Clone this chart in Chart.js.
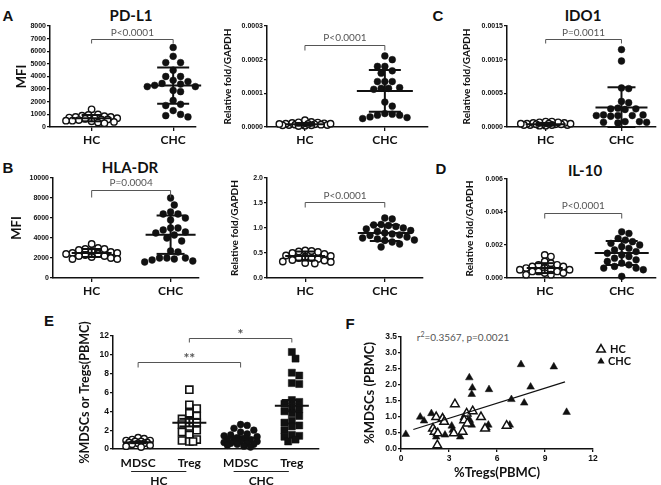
<!DOCTYPE html>
<html>
<head>
<meta charset="utf-8">
<title>MDSC figure</title>
<script src="https://cdn.jsdelivr.net/npm/chart.js@4.4.1/dist/chart.umd.min.js"></script>
<style>
html,body{margin:0;padding:0;background:#fff;}
body{position:relative;width:661px;height:485px;overflow:hidden;font-family:Lato,"Open Sans",sans-serif;}
canvas{position:absolute;}
.lbl{position:absolute;white-space:nowrap;transform:translate(-50%,-50%);line-height:1;color:#111;}
.letter{font:bold 15px "Liberation Sans",Arial,sans-serif;}
.ttl{font:bold 15px Lato,sans-serif;}
.stat{font:10px Lato,sans-serif;color:#555;}
.stat sup{font-size:7px;vertical-align:4px;line-height:0;}
</style>
</head>
<body>
<div class="lbl letter" style="left:8px;top:15px">A</div>
<div class="lbl ttl" style="left:131px;top:15px">PD-L1</div>
<div class="lbl letter" style="left:438px;top:15px">C</div>
<div class="lbl ttl" style="left:583px;top:15px">IDO1</div>
<div class="lbl letter" style="left:8px;top:167px">B</div>
<div class="lbl ttl" style="left:130px;top:167px">HLA-DR</div>
<div class="lbl letter" style="left:441px;top:168px">D</div>
<div class="lbl ttl" style="left:585px;top:170px">IL-10</div>
<div class="lbl letter" style="left:49px;top:320px">E</div>
<div class="lbl letter" style="left:350px;top:323px">F</div>
<div class="lbl stat" style="left:463px;top:337px">r<sup>2</sup>=0.3567, p=0.0021</div>
<script>
Chart.defaults.font.family = 'Lato, sans-serif';
Chart.defaults.color = '#111';

// ================= DATA =================
const groups = ['HC', 'CHC'];

// A – PD-L1 (MFI)
const pdl1MfiTicks = [0, 1000, 2000, 3000, 4000, 5000, 6000, 7000, 8000];
const pdl1MfiHC  = [1400, 1000, 950, 900, 850, 800, 800, 750, 700, 700, 650, 600, 600, 550, 500, 500, 450, 400, 350, 300];
const pdl1MfiCHC = [6300, 5600, 5100, 5100, 4500, 4000, 4000, 3700, 3600, 3450, 3400, 3300, 3200, 3200, 2900, 2800, 2100, 1800, 1700, 1300, 1000, 900, 800];
const pdl1MfiMean = [700, 3280];
const pdl1MfiSD   = [250, 1430];

// A – PD-L1 (mRNA)
const pdl1RnaTicks = [0, 0.0001, 0.0002, 0.0003];
const pdl1RnaHC  = [4e-6, 6e-6, 8e-6, 10e-6, 12e-6, 15e-6, 20e-6, 5e-6, 7e-6, 9e-6, 11e-6, 13e-6, 3e-6, 6e-6, 8e-6, 10e-6, 14e-6, 5e-6, 7e-6, 9e-6];
const pdl1RnaCHC = [211e-6, 200e-6, 180e-6, 180e-6, 167e-6, 160e-6, 135e-6, 135e-6, 135e-6, 117e-6, 115e-6, 115e-6, 112e-6, 74e-6, 62e-6, 40e-6, 38e-6, 35e-6, 35e-6, 30e-6, 28e-6, 25e-6];
const pdl1RnaMean = [8e-6, 107e-6];
const pdl1RnaSD   = [4e-6, 62e-6];

// C – IDO1
const ido1Ticks = [0, 0.0005, 0.0010, 0.0015];
const ido1HC  = [2e-5, 3e-5, 4e-5, 5e-5, 6e-5, 7e-5, 8e-5, 3e-5, 4e-5, 5e-5, 6e-5, 2e-5, 3e-5, 4e-5, 5e-5, 7e-5, 8e-5, 3e-5, 4e-5, 5e-5];
const ido1CHC = [0.00115, 0.00098, 0.00058, 0.00057, 0.00038, 0.00036, 0.00028, 0.00027, 0.00027, 0.00026, 0.00018, 0.00017, 0.00017, 0.00016, 0.00017, 0.00018, 0.00008, 0.00007, 0.00006, 0.00007, 0.00008];
const ido1Mean = [0.00004, 0.00029];
const ido1SD   = [0.00002, 0.0003];

// B – HLA-DR (MFI)
const hladrMfiTicks = [0, 2000, 4000, 6000, 8000, 10000];
const hladrMfiHC  = [3400, 3000, 2900, 2900, 2800, 2700, 2600, 2500, 2500, 2400, 2400, 2300, 2200, 2200, 2100, 2000, 1900, 1900];
const hladrMfiCHC = [8000, 7300, 6600, 6400, 6400, 6000, 5800, 5000, 5000, 4800, 4600, 4500, 4300, 4000, 3700, 2700, 2600, 2000, 2000, 2000, 1900, 1800, 1700, 1600];
const hladrMfiMean = [2500, 4330];
const hladrMfiSD   = [400, 1920];

// B – HLA-DR (mRNA)
const hladrRnaTicks = [0, 0.5, 1.0, 1.5, 2.0];
const hladrRnaHC  = [0.55, 0.54, 0.53, 0.52, 0.50, 0.48, 0.45, 0.44, 0.42, 0.40, 0.40, 0.38, 0.36, 0.35, 0.33, 0.32, 0.30, 0.29];
const hladrRnaCHC = [1.20, 1.18, 1.07, 1.06, 1.05, 1.03, 1.00, 0.98, 0.95, 0.93, 0.90, 0.88, 0.86, 0.85, 0.82, 0.80, 0.78, 0.76, 0.75, 0.72, 0.68, 0.62];
const hladrRnaMean = [0.44, 0.90];
const hladrRnaSD   = [0.09, 0.16];

// D – IL-10
const il10Ticks = [0, 0.002, 0.004, 0.006];
const il10HC  = [0.0014, 0.0013, 0.0010, 0.0009, 0.0008, 0.0008, 0.0007, 0.0007, 0.0006, 0.0006, 0.0005, 0.0005, 0.0005, 0.0004, 0.0004, 0.0004, 0.0003, 0.0003, 0.0002, 0.0002];
const il10CHC = [0.0028, 0.0027, 0.0024, 0.0023, 0.0022, 0.0021, 0.0020, 0.0019, 0.0018, 0.0017, 0.0016, 0.0015, 0.0014, 0.0013, 0.0012, 0.0011, 0.0010, 0.0009, 0.0008, 0.0007, 0.0006, 0.0006, 0.0005, 0.0001];
const il10Mean = [0.0006, 0.00152];
const il10SD   = [0.0003, 0.00073];

// E – %MDSCs / %Tregs
const cellCats   = ['MDSC', 'Treg', 'MDSC', 'Treg'];
const cellGroups = ['HC', 'CHC'];
const cellTicks  = [0, 2, 4, 6, 8, 10, 12];
const mdscHC  = [1.2, 1.1, 1.0, 0.9, 0.9, 0.8, 0.8, 0.7, 0.7, 0.6, 0.6, 0.5, 0.4, 0.3, 0.2];
const tregHC  = [6.3, 4.7, 4.3, 3.8, 3.5, 3.2, 3.0, 2.8, 2.6, 2.4, 2.0, 1.8, 1.5, 1.0, 0.9, 0.8, 0.8];
const mdscCHC = [2.6, 2.5, 2.2, 2.0, 1.8, 1.6, 1.5, 1.4, 1.3, 1.2, 1.1, 1.0, 1.0, 0.9, 0.8, 0.8, 0.7, 0.6, 0.6, 0.5, 0.5, 0.4, 0.3, 0.2];
const tregCHC = [10.3, 9.6, 8.1, 7.8, 7.0, 6.9, 5.2, 5.0, 4.8, 4.5, 4.2, 4.0, 3.8, 3.5, 3.0, 2.8, 2.5, 2.4, 2.0, 1.5, 1.4, 1.3, 1.0, 0.8];
const cellMean = [0.7, 2.8, 1.2, 4.6];
const cellSEM  = [0.08, 0.4, 0.15, 0.6];

// F – correlation
const fXTicks = [0, 3, 6, 9, 12];
const fYTicks = [0, 0.5, 1.0, 1.5, 2.0, 2.5, 3.0, 3.5];
const fTregsHC  = [2.2, 2.0, 2.1, 2.3, 2.27, 2.6, 2.7, 3.3, 3.37, 3.85, 4.0, 4.1, 3.95, 4.15, 4.48, 5.0, 5.25, 6.6];
const fMdscsHC  = [1.0, 0.64, 0.54, 0.49, 0.12, 0.95, 0.85, 0.49, 1.40, 0.54, 1.0, 1.11, 0.9, 0.8, 1.18, 1.0, 0.64, 0.73];
const fTregsCHC = [0.3, 1.2, 1.44, 1.9, 2.2, 2.6, 2.75, 3.17, 3.23, 3.7, 4.3, 4.27, 4.42, 4.46, 4.42, 5.35, 5.46, 5.5, 6.8, 6.9, 7.5, 7.7, 8.1, 9.55, 10.35];
const fMdscsCHC = [0.46, 1.0, 0.88, 1.11, 0.38, 0.98, 0.44, 0.72, 0.59, 0.38, 0.9, 2.23, 1.71, 1.91, 0.75, 0.66, 0.75, 1.86, 0.75, 1.55, 2.64, 1.44, 1.94, 2.57, 1.15];
const fitSlope = 0.157;
const fitIntercept = 0.489;
const fitRange = [0.77, 10.25];

// ================= HELPERS =================
// deterministic beeswarm (GraphPad-like scatter dot layout), limited to a max half-width
function swarmOffsets(vals, pxPerY, pxPerX, dia, maxHW) {
  const order = vals.map((v, i) => i).sort((a, b) => vals[b] - vals[a]);
  const placed = [];
  const off = new Array(vals.length).fill(0);
  const step = dia * 0.5;
  const cands = [0];
  for (let k = 1; k * step <= maxHW + 0.01; k++) { cands.push(k * step, -k * step); }
  for (const i of order) {
    const py = vals[i] * pxPerY;
    let pos = null, bestPos = 0, bestD = -1;
    for (const c of cands) {
      const d = placed.length ? Math.min(...placed.map(p => Math.hypot(p.x - c, p.y - py))) : Infinity;
      if (d >= dia) { pos = c; break; }
      if (d > bestD) { bestD = d; bestPos = c; }
    }
    if (pos === null) pos = bestPos;
    placed.push({ x: pos, y: py });
    off[i] = pos / pxPerX;
  }
  return off;
}

function addCanvas(box) {
  const c = document.createElement('canvas');
  c.width = box.w; c.height = box.h;
  c.style.left = box.x + 'px'; c.style.top = box.y + 'px';
  c.style.width = box.w + 'px'; c.style.height = box.h + 'px';
  document.body.appendChild(c);
  return c;
}

const openCircle   = { style: 'circle', r: 3.2, fill: '#fff', bw: 1.4, dia: 6.4, hw: 26 };
const filledCircle = { style: 'circle', r: 3.4, fill: '#111', bw: 0.5, dia: 7.4, hw: 30 };
const openCircleE  = { style: 'circle', r: 3.2, fill: '#fff', bw: 1.4, dia: 6.0, hw: 14 };
const filledCircleE= { style: 'circle', r: 3.4, fill: '#111', bw: 0.5, dia: 6.6, hw: 17 };
const openSquare   = { style: 'rect', r: 5, fill: '#fff', bw: 1.6, dia: 7.4, hw: 11 };
const filledSquare = { style: 'rect', r: 5, fill: '#111', bw: 0.5, dia: 7.4, hw: 11 };

function dotPanel(spec) {
  const { box, area, cats, series, ticks, fmt, yTitle, yTitleFont, xMin, xMax,
          mean, err, meanHW, errHW, brackets, markers } = spec;
  const canvas = addCanvas(box);
  const yMin = ticks[0], yMax = ticks[ticks.length - 1];
  const pxY = (area.B - area.T) / (yMax - yMin);
  const pxX = (area.R - area.L) / (xMax - xMin);
  const datasets = series.map((vals, i) => {
    const m = markers[i];
    const off = swarmOffsets(vals, pxY, pxX, m.dia, m.hw);
    return {
      label: cats[i],
      data: vals.map((v, j) => ({ x: i + off[j], y: v })),
      pointStyle: m.style, pointRadius: m.r,
      pointBackgroundColor: m.fill, pointBorderColor: '#111', pointBorderWidth: m.bw,
      showLine: false, clip: false
    };
  });
  const overlay = {
    id: 'overlay',
    afterDatasetsDraw(chart) {
      const { ctx, scales: { x, y } } = chart;
      ctx.save();
      const seg = (a, b, c, d) => { ctx.beginPath(); ctx.moveTo(a, b); ctx.lineTo(c, d); ctx.stroke(); };
      ctx.strokeStyle = '#111'; ctx.lineWidth = 2;
      mean.forEach((m, i) => {
        const cx = x.getPixelForValue(i);
        const ym = y.getPixelForValue(m);
        const yu = y.getPixelForValue(m + err[i]);
        const yl = y.getPixelForValue(Math.max(m - err[i], yMin));
        seg(cx - meanHW[i], ym, cx + meanHW[i], ym);
        seg(cx - errHW[i], yu, cx + errHW[i], yu);
        seg(cx - errHW[i], yl, cx + errHW[i], yl);
        seg(cx, yu, cx, yl);
      });
      ctx.strokeStyle = '#555'; ctx.fillStyle = '#555'; ctx.lineWidth = 1;
      ctx.textAlign = 'center'; ctx.textBaseline = 'middle';
      brackets.forEach(b => {
        const x1 = x.getPixelForValue(b.from), x2 = x.getPixelForValue(b.to);
        const yb = Math.round(y.getPixelForValue(b.at)) + 0.5;
        ctx.beginPath();
        ctx.moveTo(x1, yb + b.tip); ctx.lineTo(x1, yb); ctx.lineTo(x2, yb); ctx.lineTo(x2, yb + b.tip);
        ctx.stroke();
        ctx.font = b.font || '10px Lato, sans-serif';
        ctx.fillText(b.text, (x1 + x2) / 2, yb - b.gap);
      });
      ctx.restore();
      if (spec.extra) spec.extra(chart);
    }
  };
  new Chart(canvas, {
    type: 'scatter',
    data: { datasets },
    options: {
      responsive: false, animation: false, events: [],
      layout: { padding: { left: 0, top: area.T - box.y, right: box.x + box.w - area.R, bottom: 0 } },
      plugins: { legend: { display: false }, tooltip: { enabled: false } },
      scales: {
        x: {
          type: 'linear', position: 'bottom', min: xMin, max: xMax,
          afterBuildTicks: s => { s.ticks = cats.map((c, i) => ({ value: i })); },
          afterFit: s => { s.height = box.y + box.h - area.B; },
          ticks: { callback: v => cats[v], font: spec.xFont, color: '#111', padding: spec.xPad, maxRotation: 0, autoSkip: false },
          grid: { display: spec.xTickLen > 0, drawOnChartArea: false, tickLength: spec.xTickLen, color: '#111', lineWidth: 1.3 },
          border: { display: true, color: '#111', width: 1.5 }
        },
        y: {
          type: 'linear', position: 'left', min: yMin, max: yMax,
          afterBuildTicks: s => { s.ticks = ticks.map(v => ({ value: v })); },
          afterFit: s => { s.width = area.L - box.x; },
          ticks: { callback: v => fmt(v), font: spec.yFont, color: '#111', padding: 1, autoSkip: false },
          grid: { drawOnChartArea: false, tickLength: 3, color: '#111', lineWidth: 1.3 },
          border: { display: true, color: '#111', width: 1.5 },
          title: { display: true, text: yTitle, font: yTitleFont, color: '#111', padding: 0 }
        }
      }
    },
    plugins: [overlay]
  });
}

const tickFontSmall = { family: '"Liberation Sans", Arial, sans-serif', size: 7, weight: 'bold', lineHeight: 1 };
const catFont = { family: 'Lato, sans-serif', size: 12, weight: 'bold', lineHeight: 1 };
const mfiTitle = { family: 'Lato, sans-serif', size: 13, weight: 'bold', lineHeight: 1.2 };
const relTitle = { family: 'Lato, sans-serif', size: 10, weight: 'bold', lineHeight: 1.2 };
const openFilled = [openCircle, filledCircle];
const f0 = v => String(v);

// A – PD-L1 MFI
dotPanel({
  box: { x: 14, y: 18, w: 191, h: 132 }, area: { L: 50, T: 26, R: 196, B: 127 },
  cats: groups, series: [pdl1MfiHC, pdl1MfiCHC], ticks: pdl1MfiTicks, fmt: f0,
  yTitle: 'MFI', yTitleFont: mfiTitle, xMin: -0.51, xMax: 1.28,
  mean: pdl1MfiMean, err: pdl1MfiSD, meanHW: [20, 28], errHW: [10, 16],
  brackets: [{ from: 0, to: 1, at: 6970, tip: 4, gap: 7, text: 'P<0.0001' }],
  markers: openFilled, xFont: catFont, xPad: 3, xTickLen: 4, yFont: tickFontSmall
});
// A – PD-L1 mRNA
dotPanel({
  box: { x: 222, y: 18, w: 213, h: 132 }, area: { L: 267, T: 26, R: 428, B: 127 },
  cats: groups, series: [pdl1RnaHC, pdl1RnaCHC], ticks: pdl1RnaTicks, fmt: v => v.toFixed(4),
  yTitle: 'Relative fold/GAPDH', yTitleFont: relTitle, xMin: -0.475, xMax: 1.54,
  mean: pdl1RnaMean, err: pdl1RnaSD, meanHW: [20, 28], errHW: [10, 16],
  brackets: [{ from: 0, to: 1, at: 0.000244, tip: 5, gap: 8, text: 'P<0.0001' }],
  markers: openFilled, xFont: catFont, xPad: 3, xTickLen: 4, yFont: tickFontSmall
});
// C – IDO1
dotPanel({
  box: { x: 461, y: 18, w: 200, h: 132 }, area: { L: 507, T: 26, R: 660, B: 127 },
  cats: groups, series: [ido1HC, ido1CHC], ticks: ido1Ticks, fmt: v => v.toFixed(4),
  yTitle: 'Relative fold/GAPDH', yTitleFont: relTitle, xMin: -0.51, xMax: 1.45,
  mean: ido1Mean, err: ido1SD, meanHW: [20, 26], errHW: [10, 14],
  brackets: [{ from: 0, to: 1, at: 0.00131, tip: 4, gap: 7, text: 'P=0.0011' }],
  markers: openFilled, xFont: catFont, xPad: 3, xTickLen: 4, yFont: tickFontSmall
});
// B – HLA-DR MFI
dotPanel({
  box: { x: 9, y: 170, w: 196, h: 132 }, area: { L: 53, T: 178, R: 199, B: 278 },
  cats: groups, series: [hladrMfiHC, hladrMfiCHC], ticks: hladrMfiTicks, fmt: f0,
  yTitle: 'MFI', yTitleFont: mfiTitle, xMin: -0.49, xMax: 1.36,
  mean: hladrMfiMean, err: hladrMfiSD, meanHW: [20, 25], errHW: [10, 14],
  brackets: [{ from: 0, to: 1, at: 8800, tip: 7, gap: 8, text: 'P=0.0004' }],
  markers: openFilled, xFont: catFont, xPad: 3, xTickLen: 4, yFont: tickFontSmall
});
// B – HLA-DR mRNA
dotPanel({
  box: { x: 229, y: 170, w: 206, h: 132 }, area: { L: 267, T: 178, R: 423, B: 278 },
  cats: groups, series: [hladrRnaHC, hladrRnaCHC], ticks: hladrRnaTicks, fmt: v => v.toFixed(1),
  yTitle: 'Relative fold/GAPDH', yTitleFont: relTitle, xMin: -0.48, xMax: 1.48,
  mean: hladrRnaMean, err: hladrRnaSD, meanHW: [20, 27], errHW: [10, 15],
  brackets: [{ from: 0, to: 1, at: 1.52, tip: 5, gap: 7, text: 'P<0.0001' }],
  markers: openFilled, xFont: catFont, xPad: 3, xTickLen: 4, yFont: tickFontSmall
});
// D – IL-10
dotPanel({
  box: { x: 464, y: 170, w: 197, h: 132 }, area: { L: 507, T: 179, R: 660, B: 278 },
  cats: groups, series: [il10HC, il10CHC], ticks: il10Ticks, fmt: v => v.toFixed(3),
  yTitle: 'Relative fold/GAPDH', yTitleFont: relTitle, xMin: -0.49, xMax: 1.44,
  mean: il10Mean, err: il10SD, meanHW: [18, 27], errHW: [9, 16],
  brackets: [{ from: 0, to: 1, at: 0.00394, tip: 5, gap: 8, text: 'P<0.0001' }],
  markers: openFilled, xFont: catFont, xPad: 3, xTickLen: 4, yFont: tickFontSmall
});
// E – MDSC / Treg
dotPanel({
  box: { x: 78, y: 318, w: 252, h: 167 }, area: { L: 113, T: 336, R: 319, B: 449 },
  cats: cellCats, series: [mdscHC, tregHC, mdscCHC, tregCHC], ticks: cellTicks, fmt: f0,
  yTitle: '%MDSCs or Tregs(PBMC)', yTitleFont: { family: 'Lato, sans-serif', size: 12.5, weight: 'bold', lineHeight: 1.1 },
  xMin: -0.49, xMax: 3.53,
  mean: cellMean, err: cellSEM, meanHW: [15, 17, 15, 17], errHW: [8, 10, 8, 10],
  brackets: [
    { from: 0, to: 2, at: 9.24, tip: 5, gap: 4, text: '**', font: 'bold 14px Lato, sans-serif' },
    { from: 1, to: 3, at: 11.8, tip: 4, gap: 4, text: '*', font: 'bold 14px Lato, sans-serif' }
  ],
  markers: [openCircleE, openSquare, filledCircleE, filledSquare],
  xFont: catFont, xPad: 8, xTickLen: 0,
  yFont: { family: '"Liberation Sans", Arial, sans-serif', size: 8.5, weight: 'bold', lineHeight: 1 },
  extra(chart) {
    const { ctx, scales: { x }, chartArea } = chart;
    ctx.save();
    ctx.strokeStyle = '#222'; ctx.lineWidth = 1;
    ctx.fillStyle = '#111'; ctx.font = 'bold 12px Lato, sans-serif';
    ctx.textAlign = 'center'; ctx.textBaseline = 'middle';
    cellGroups.forEach((g, gi) => {
      const x1 = x.getPixelForValue(gi * 2) - 7, x2 = x.getPixelForValue(gi * 2 + 1) - 3;
      const yl = chartArea.bottom + 22.5;
      ctx.beginPath(); ctx.moveTo(x1, yl); ctx.lineTo(x2, yl); ctx.stroke();
      ctx.fillText(g, (x1 + x2) / 2, chartArea.bottom + 32);
    });
    ctx.restore();
  }
});

// F – correlation scatter
(function () {
  const box = { x: 362, y: 325, w: 299, h: 156 };
  const area = { L: 401, T: 337, R: 593, B: 449 };
  const canvas = addCanvas(box);
  const tickF = { family: '"Liberation Sans", Arial, sans-serif', size: 8.5, weight: 'bold', lineHeight: 1 };
  const titleF = { family: 'Lato, sans-serif', size: 13, weight: 'bold', lineHeight: 1.2 };
  function tri(ctx, x, y, r, filled) {
    ctx.beginPath();
    for (let k = 0; k < 3; k++) {
      const a = k * 2 * Math.PI / 3;
      const px = x + Math.sin(a) * r, py = y - Math.cos(a) * r;
      k ? ctx.lineTo(px, py) : ctx.moveTo(px, py);
    }
    ctx.closePath();
    if (filled) { ctx.fillStyle = '#111'; ctx.fill(); }
    else { ctx.fillStyle = '#fff'; ctx.fill(); ctx.strokeStyle = '#111'; ctx.lineWidth = 1.5; ctx.stroke(); }
  }
  const overlay = {
    id: 'fOverlay',
    afterDatasetsDraw(chart) {
      const { ctx, scales: { x, y } } = chart;
      ctx.save();
      ctx.strokeStyle = '#111'; ctx.lineWidth = 1.2;
      ctx.beginPath();
      ctx.moveTo(x.getPixelForValue(fitRange[0]), y.getPixelForValue(fitIntercept + fitSlope * fitRange[0]));
      ctx.lineTo(x.getPixelForValue(fitRange[1]), y.getPixelForValue(fitIntercept + fitSlope * fitRange[1]));
      ctx.stroke();
      // legend
      const lx = chart.chartArea.right + 8;
      const ly = [chart.chartArea.top + 12, chart.chartArea.top + 24];
      tri(ctx, lx, ly[0] + 0.5, 5, false);
      tri(ctx, lx, ly[1] + 0.5, 4.2, true);
      ctx.fillStyle = '#111'; ctx.font = 'bold 11px Lato, sans-serif';
      ctx.textAlign = 'left'; ctx.textBaseline = 'middle';
      ctx.fillText('HC', lx + 9, ly[0]);
      ctx.fillText('CHC', lx + 7, ly[1]);
      ctx.restore();
    }
  };
  new Chart(canvas, {
    type: 'scatter',
    data: {
      datasets: [
        { label: 'HC', data: fTregsHC.map((t, i) => ({ x: t, y: fMdscsHC[i] })),
          pointStyle: 'triangle', pointRadius: 5, pointBackgroundColor: '#fff', pointBorderColor: '#111', pointBorderWidth: 1.5, clip: false },
        { label: 'CHC', data: fTregsCHC.map((t, i) => ({ x: t, y: fMdscsCHC[i] })),
          pointStyle: 'triangle', pointRadius: 4.4, pointBackgroundColor: '#111', pointBorderColor: '#111', pointBorderWidth: 0.5, clip: false }
      ]
    },
    options: {
      responsive: false, animation: false, events: [],
      layout: { padding: { left: 0, top: area.T - box.y, right: box.x + box.w - area.R, bottom: 0 } },
      plugins: { legend: { display: false }, tooltip: { enabled: false } },
      scales: {
        x: {
          type: 'linear', min: fXTicks[0], max: fXTicks[fXTicks.length - 1],
          afterBuildTicks: s => { s.ticks = fXTicks.map(v => ({ value: v })); },
          afterFit: s => { s.height = box.y + box.h - area.B; },
          ticks: { callback: v => String(v), font: tickF, color: '#111', padding: 2, maxRotation: 0, autoSkip: false },
          grid: { drawOnChartArea: false, tickLength: 3, color: '#111', lineWidth: 1.3 },
          border: { display: true, color: '#111', width: 1.5 },
          title: { display: true, text: '%Tregs(PBMC)', font: titleF, color: '#111', padding: 0 }
        },
        y: {
          type: 'linear', min: fYTicks[0], max: fYTicks[fYTicks.length - 1],
          afterBuildTicks: s => { s.ticks = fYTicks.map(v => ({ value: v })); },
          afterFit: s => { s.width = area.L - box.x; },
          ticks: { callback: v => v.toFixed(1), font: tickF, color: '#111', padding: 1, autoSkip: false },
          grid: { drawOnChartArea: false, tickLength: 3, color: '#111', lineWidth: 1.3 },
          border: { display: true, color: '#111', width: 1.5 },
          title: { display: true, text: '%MDSCs (PBMC)', font: titleF, color: '#111', padding: 0 }
        }
      }
    },
    plugins: [overlay]
  });
})();
</script>
</body>
</html>
